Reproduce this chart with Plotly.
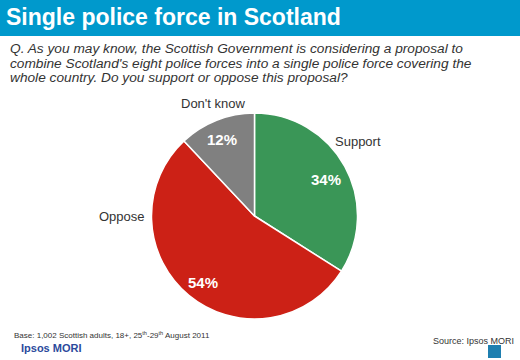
import plotly.graph_objects as go

categories = ["Support", "Oppose", "Don't know"]
values = [34, 54, 12]
colors = ["#3a9657", "#cc2116", "#808080"]

W, H = 520, 360
def px(x): return x / W
def py(y): return 1 - y / H

cx, cy, r = 254.5, 216, 103

fig = go.Figure()
fig.add_trace(go.Pie(
    labels=categories, values=values, sort=False, direction="clockwise", rotation=0,
    marker=dict(colors=colors, line=dict(color="white", width=1.5)),
    textinfo="none",
    domain=dict(x=[px(cx - r), px(cx + r)], y=[py(cy + r), py(cy - r)]),
    showlegend=False, hoverinfo="label+percent",
))

shapes = [dict(type="rect", xref="paper", yref="paper", x0=0, x1=1, y0=py(36), y1=1,
               fillcolor="#0099cc", line=dict(width=0), layer="below"),
          dict(type="rect", xref="paper", yref="paper", x0=px(488), x1=px(501), y0=py(358), y1=py(345),
               fillcolor="#1e7fb0", line=dict(width=0))]

ann = []
def add(text, x, y, size, color="#333333", xanchor="left", yanchor="middle", bold=False, italic=False):
    ann.append(dict(text=text, x=px(x), y=py(y), xref="paper", yref="paper", showarrow=False,
                    xanchor=xanchor, yanchor=yanchor, align="left",
                    font=dict(family="Liberation Sans, Arial", size=size, color=color,
                              weight="bold" if bold else "normal", style="italic" if italic else "normal")))

add("Single police force in Scotland", 4, 17, 23, color="white", bold=True)
question = ["Q. As you may know, the Scottish Government is considering a proposal to",
            "combine Scotland's eight police forces into a single police force covering the",
            "whole country. Do you support or oppose this proposal?"]
for i, line in enumerate(question):
    add(line, 8, 49 + 14 * i, 13.7, italic=True)

label_pos = [(333, 142, "left"), (147, 216, "right"), (213, 103, "center")]
for name, (x, y, xa) in zip(categories, label_pos):
    add(name, x, y, 13, xanchor=xa)

pct_pos = [(326, 179), (203, 282), (222, 139)]
for v, (x, y) in zip(values, pct_pos):
    add(f"{v}%", x, y, 15, color="white", xanchor="center", bold=True)

add("Base: 1,002 Scottish adults, 18+, 25<sup>th</sup>-29<sup>th</sup> August 2011", 12, 335, 8)
add("Ipsos MORI", 19, 348, 11, color="#2b4a9c", bold=True)
add("Source: Ipsos MORI", 516, 341, 9, xanchor="right")

fig.update_layout(width=W, height=H, margin=dict(l=0, r=0, t=0, b=0),
                  paper_bgcolor="white", plot_bgcolor="white",
                  shapes=shapes, annotations=ann)
fig.write_html("out.html", config={"displayModeBar": False},
               post_script="document.body.style.margin='0';document.body.style.padding='0';")
